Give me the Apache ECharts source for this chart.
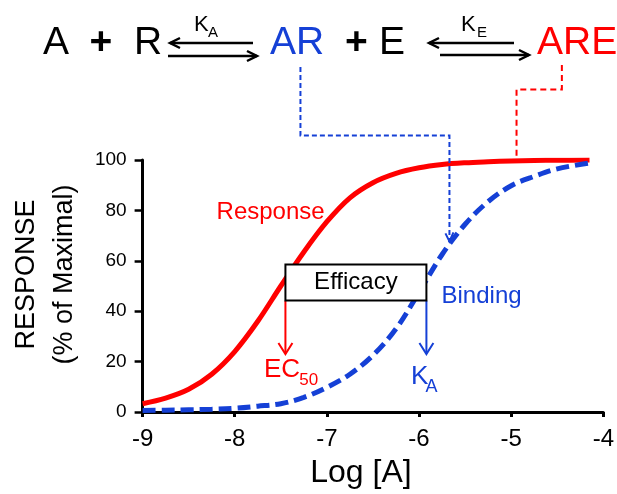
<!DOCTYPE html>
<html>
<head>
<meta charset="utf-8">
<script src="https://cdn.jsdelivr.net/npm/echarts@6/dist/echarts.min.js"></script>
<style>html,body{margin:0;padding:0;background:#fff}#chart{width:617px;height:494px}</style>
</head>
<body>
<div id="chart"></div>
<script>
// ---- data ----
const logConcentration = [-9, -8.75, -8.5, -8.25, -8, -7.75, -7.5, -7.25, -7, -6.75, -6.5, -6.25, -6, -5.75, -5.5, -5.25, -5, -4.75, -4.5, -4.15];
const responseValues   = [3.3, 5.5, 9.0, 15, 24, 36, 50, 63.5, 75.5, 85, 91, 94.7, 96.9, 98.2, 98.9, 99.3, 99.6, 99.8, 99.9, 100];
const bindingValues    = [0.6, 0.7, 0.9, 1.1, 1.5, 2.3, 3.3, 5.8, 9.8, 15, 22.5, 33, 47.5, 62.5, 74.5, 83.5, 89.8, 93.5, 96.5, 98.8];
const xTickRange = [-9, -4, 1];
const yTickRange = [0, 100, 20];
const xAxisTitle = 'Log [A]';
const yAxisTitle = 'RESPONSE\n(% of Maximal)';
const seriesNames = ['Response', 'Binding'];
// annotation anchors in data units
const ec50 = -7.45;
const kA = -5.92;
const efficacyBand = [44.2, 58.5];
const arrowTipValue = 23;

const RED = '#ff0000';
const BLUE = '#1540d6';
const FONT = "'Liberation Sans', Arial, sans-serif";

const chart = echarts.init(document.getElementById('chart'), null, {renderer: 'canvas'});

const zip = (xs, ys) => xs.map((x, i) => [x, ys[i]]);

chart.setOption({
  animation: false,
  backgroundColor: '#fff',
  grid: {left: 140, right: 10, top: 160, bottom: 77, containLabel: false},
  xAxis: {
    type: 'value', min: xTickRange[0], max: xTickRange[1], interval: xTickRange[2],
    name: xAxisTitle, nameLocation: 'middle', nameGap: 45,
    nameTextStyle: {fontSize: 32, fontFamily: FONT, color: '#000', padding: [0, 24, 0, 0]},
    axisLine: {onZero: false, lineStyle: {color: '#000', width: 3}},
    axisTick: {inside: false, length: 5, lineStyle: {color: '#000', width: 3}},
    axisLabel: {fontSize: 24, fontFamily: FONT, color: '#000', margin: 15},
    splitLine: {show: false}
  },
  yAxis: {
    type: 'value', min: yTickRange[0], max: yTickRange[1], interval: yTickRange[2],
    name: yAxisTitle, nameLocation: 'middle', nameGap: 58,
    nameTextStyle: {fontSize: 27, fontFamily: FONT, color: '#000', lineHeight: 38, padding: [0, 0, 0, 23]},
    axisLine: {show: true, lineStyle: {color: '#000', width: 3}},
    axisTick: {show: true, inside: false, length: 8, lineStyle: {color: '#000', width: 2.5}},
    axisLabel: {fontSize: 19, fontFamily: FONT, color: '#000', margin: 16},
    splitLine: {show: false}
  },
  series: [
    {
      name: seriesNames[0], type: 'line', data: zip(logConcentration, responseValues),
      showSymbol: false, smooth: 0.35, z: 3,
      lineStyle: {color: RED, width: 5}
    },
    {
      name: seriesNames[1], type: 'line', data: zip(logConcentration, bindingValues),
      showSymbol: false, smooth: 0.35, z: 4,
      lineStyle: {color: BLUE, width: 5, type: [13, 6]}
    }
  ]
});

function px(x, y) { return chart.convertToPixel({gridIndex: 0}, [x, y]); }

function txt(text, x, y, size, color, align, weight) {
  return {
    type: 'text', x: x, y: y, z: 120,
    style: {text: text, fill: color, fontSize: size, fontFamily: FONT, fontWeight: weight || 'normal',
      align: align || 'left', textAlign: align || 'left',
      verticalAlign: 'middle', textVerticalAlign: 'middle'}
  };
}
function poly(points, color, width, dash) {
  return {type: 'polyline', z: 110, shape: {points: points},
    style: {stroke: color, lineWidth: width, fill: null, lineDash: dash || null}};
}
function chevronDown(tip, color, w, h) {
  return poly([[tip[0] - w, tip[1] - h], tip, [tip[0] + w, tip[1] - h]], color, 2);
}

const g = [];
// ---- reaction scheme (top) ----
g.push(txt('A', 43, 43, 39, '#000'));
g.push(txt('+', 101, 43, 39, '#000', 'center', 'bold'));
g.push(txt('R', 134, 43, 39, '#000'));
g.push(poly([[253, 43], [170, 43]], '#000', 2.5));
g.push(poly([[180, 38], [170, 43], [180, 48]], '#000', 2.5));
g.push(poly([[168, 56], [257, 56]], '#000', 2.5));
g.push(poly([[247, 51], [257, 56], [247, 61]], '#000', 2.5));
g.push(txt('K', 194, 25, 22, '#000'));
g.push(txt('A', 208, 32.5, 15, '#000'));
g.push(txt('AR', 270, 43, 39, BLUE));
g.push(txt('+', 356.5, 43, 39, '#000', 'center', 'bold'));
g.push(txt('E', 379, 43, 39, '#000'));
g.push(poly([[514, 43], [429, 43]], '#000', 2.5));
g.push(poly([[439, 38], [429, 43], [439, 48]], '#000', 2.5));
g.push(poly([[440, 55], [529, 55]], '#000', 2.5));
g.push(poly([[519, 50], [529, 55], [519, 60]], '#000', 2.5));
g.push(txt('K', 461, 25, 22, '#000'));
g.push(txt('E', 477, 32.5, 15, '#000'));
g.push(txt('ARE', 537, 43, 39, RED));

// ---- connectors from scheme into plot ----
const bA = px(-7.287, 109.7), bB = px(-5.67, 109.7), bC = px(-5.67, 67.7);
g.push(poly([[bA[0], 67], bA, bB, bC], BLUE, 2, [5, 3]));
g.push(poly([[bC[0] - 4, bC[1] - 8], bC, [bC[0] + 4, bC[1] - 9]], BLUE, 2));
const rA = px(-4.45, 128), rB = px(-4.942, 128), rC = px(-4.942, 99.2);
g.push(poly([[rA[0], 65], rA, rB, rC], RED, 2, [6, 4]));

// ---- efficacy box & arrows ----
const boxTL = px(ec50, efficacyBand[1]);
const boxBR = px(kA, efficacyBand[0]);
g.push({type: 'rect', z: 115, shape: {x: boxTL[0], y: boxTL[1], width: boxBR[0] - boxTL[0], height: boxBR[1] - boxTL[1]},
  style: {fill: '#fff', stroke: '#000', lineWidth: 2}});
g.push(txt('Efficacy', (boxTL[0] + boxBR[0]) / 2, (boxTL[1] + boxBR[1]) / 2, 24, '#000', 'center'));

const ecTop = px(ec50, efficacyBand[0]), ecTip = px(ec50, arrowTipValue);
g.push(poly([ecTop, ecTip], RED, 2));
g.push(chevronDown(ecTip, RED, 7, 11));
const kaTop = px(kA, efficacyBand[0]), kaTip = px(kA, arrowTipValue);
g.push(poly([kaTop, kaTip], BLUE, 2));
g.push(chevronDown(kaTip, BLUE, 7, 11));

// ---- labels ----
const respPos = px(-8.197, 79.2);
g.push(txt('Response', respPos[0], respPos[1], 24, RED));
const bindPos = px(-5.756, 45.8);
g.push(txt('Binding', bindPos[0], bindPos[1], 24, BLUE));
const ecPos = px(-7.683, 16.7);
g.push(txt('EC', ecPos[0], ecPos[1], 26, RED));
const ecSub = px(-7.30, 12.5);
g.push(txt('50', ecSub[0], ecSub[1], 17, RED));
const kPos = px(-6.088, 13.8);
g.push(txt('K', kPos[0], kPos[1], 26, BLUE));
const kSub = px(-5.93, 9.9);
g.push(txt('A', kSub[0], kSub[1], 18, BLUE));

chart.setOption({graphic: g});
</script>
</body>
</html>
